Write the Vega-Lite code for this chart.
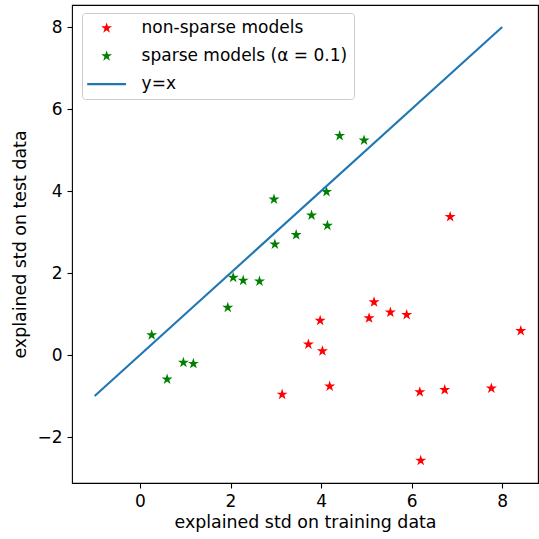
{
  "$schema": "https://vega.github.io/schema/vega-lite/v6.json",
  "width": 466,
  "height": 478,
  "autosize": {"type": "none"},
  "padding": {"left": 72, "top": 5, "right": 1, "bottom": 56},
  "background": "white",
  "config": {
    "font": "DejaVu Sans",
    "view": {"stroke": "black", "strokeWidth": 1.1},
    "axis": {
      "grid": false,
      "domain": false,
      "tickColor": "black",
      "tickSize": 5,
      "tickWidth": 1.1,
      "labelColor": "black",
      "labelFont": "DejaVu Sans",
      "labelFontSize": 17,
      "labelPadding": 5,
      "titleFont": "DejaVu Sans",
      "titleFontSize": 17.4,
      "titleFontWeight": "normal",
      "titleColor": "black"
    }
  },
  "data": {
    "values": [
      {"x": 6.85, "y": 3.37, "series": "non-sparse models"},
      {"x": 5.17, "y": 1.29, "series": "non-sparse models"},
      {"x": 5.06, "y": 0.9, "series": "non-sparse models"},
      {"x": 5.53, "y": 1.04, "series": "non-sparse models"},
      {"x": 5.89, "y": 0.98, "series": "non-sparse models"},
      {"x": 3.98, "y": 0.84, "series": "non-sparse models"},
      {"x": 3.72, "y": 0.26, "series": "non-sparse models"},
      {"x": 4.03, "y": 0.1, "series": "non-sparse models"},
      {"x": 8.41, "y": 0.59, "series": "non-sparse models"},
      {"x": 4.19, "y": -0.76, "series": "non-sparse models"},
      {"x": 3.14, "y": -0.96, "series": "non-sparse models"},
      {"x": 6.18, "y": -0.9, "series": "non-sparse models"},
      {"x": 6.73, "y": -0.85, "series": "non-sparse models"},
      {"x": 7.76, "y": -0.81, "series": "non-sparse models"},
      {"x": 6.2, "y": -2.57, "series": "non-sparse models"},
      {"x": 0.26, "y": 0.49, "series": "sparse models (α = 0.1)"},
      {"x": 0.6, "y": -0.59, "series": "sparse models (α = 0.1)"},
      {"x": 0.96, "y": -0.18, "series": "sparse models (α = 0.1)"},
      {"x": 1.18, "y": -0.21, "series": "sparse models (α = 0.1)"},
      {"x": 1.94, "y": 1.16, "series": "sparse models (α = 0.1)"},
      {"x": 2.06, "y": 1.89, "series": "sparse models (α = 0.1)"},
      {"x": 2.28, "y": 1.82, "series": "sparse models (α = 0.1)"},
      {"x": 2.64, "y": 1.8, "series": "sparse models (α = 0.1)"},
      {"x": 2.96, "y": 3.8, "series": "sparse models (α = 0.1)"},
      {"x": 2.98, "y": 2.7, "series": "sparse models (α = 0.1)"},
      {"x": 3.45, "y": 2.93, "series": "sparse models (α = 0.1)"},
      {"x": 3.79, "y": 3.41, "series": "sparse models (α = 0.1)"},
      {"x": 4.12, "y": 3.98, "series": "sparse models (α = 0.1)"},
      {"x": 4.14, "y": 3.16, "series": "sparse models (α = 0.1)"},
      {"x": 4.41, "y": 5.35, "series": "sparse models (α = 0.1)"},
      {"x": 4.95, "y": 5.24, "series": "sparse models (α = 0.1)"},
      {"x": -1, "y": -1, "series": "y=x"},
      {"x": 8, "y": 8, "series": "y=x"}
    ]
  },
  "encoding": {
    "x": {
      "field": "x",
      "type": "quantitative",
      "scale": {"domain": [-1.5, 8.79], "nice": false, "zero": false},
      "axis": {"values": [0, 2, 4, 6, 8], "title": "explained std on training data", "titlePadding": 4}
    },
    "y": {
      "field": "y",
      "type": "quantitative",
      "scale": {"domain": [-3.12, 8.537], "nice": false, "zero": false},
      "axis": {
        "values": [-2, 0, 2, 4, 6, 8],
        "labelExpr": "replace(datum.label, '-', '−')",
        "title": "explained std on test data",
        "titlePadding": 7
      }
    },
    "color": {
      "field": "series",
      "type": "nominal",
      "scale": {
        "domain": ["non-sparse models", "sparse models (α = 0.1)", "y=x"],
        "range": ["#ff0000", "#008000", "#1f77b4"]
      },
      "legend": {
        "title": null,
        "orient": "none",
        "legendX": 10,
        "legendY": 8,
        "padding": 6.6,
        "rowPadding": 10,
        "strokeColor": "#cccccc",
        "fillColor": "rgba(255,255,255,0.8)",
        "cornerRadius": 3,
        "labelFont": "DejaVu Sans",
        "labelFontSize": 17,
        "labelColor": "black",
        "labelLimit": 400,
        "labelOffset": 36,
        "symbolSize": 130,
        "encode": {
          "symbols": {
            "update": {
              "x": {"value": 18},
              "shape": {"signal": "datum.value === 'y=x' ? 'M-3.4,0L3.4,0' : 'M0,-1L0.2245,-0.309L0.951,-0.309L0.363,0.118L0.588,0.809L0,0.382L-0.588,0.809L-0.363,0.118L-0.951,-0.309L-0.2245,-0.309Z'"},
              "fillOpacity": {"signal": "datum.value === 'y=x' ? 0 : 1"},
              "strokeWidth": {"signal": "datum.value === 'y=x' ? 2.1 : 0"},
              "strokeOpacity": {"value": 1}
            }
          }
        }
      }
    }
  },
  "layer": [
    {
      "transform": [{"filter": "datum.series !== 'y=x'"}],
      "mark": {
        "type": "point",
        "filled": true,
        "opacity": 1,
        "size": 135,
        "shape": "M0,-1L0.2245,-0.309L0.951,-0.309L0.363,0.118L0.588,0.809L0,0.382L-0.588,0.809L-0.363,0.118L-0.951,-0.309L-0.2245,-0.309Z"
      }
    },
    {
      "transform": [{"filter": "datum.series === 'y=x'"}],
      "mark": {"type": "line", "strokeWidth": 2.1, "clip": true}
    }
  ]
}
